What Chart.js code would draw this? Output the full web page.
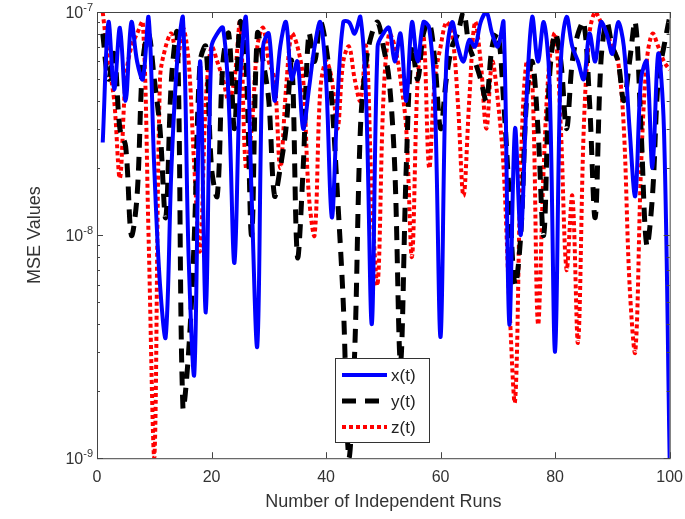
<!DOCTYPE html>
<html>
<head>
<meta charset="utf-8">
<script src="https://cdn.jsdelivr.net/npm/chart.js@4/dist/chart.umd.min.js"></script>
<style>
  body { margin: 0; background: #fff; }
  #wrap { width: 685px; height: 519px; }
</style>
</head>
<body>
<div id="wrap"><canvas id="mseChart"></canvas></div>
<script>
// values in units of 1e-9
const runs = Array.from({ length: 100 }, (_, i) => i + 1);
const xVals = [26,90,45,85,40,90,60,50,95,20, 6,3.5,20,60,95,8,2.4,60,4.5,70,
  80,85,40,7.5,50,95,15,3.2,70,80, 40,70,90,50,60,30,45,70,90,50,
  12,40,90,90,80,95,40,4,70,80, 85,60,80,40,90,60,90,85,40,3.5,
  60,90,70,60,75,70,90,100,80,70, 90,4,30,10,40,95,60,90,50,3,
  60,95,70,60,50,80,60,90,80,65, 90,70,30,15,50,60,20,65,30,1];
const yVals = [80,50,65,30,25,10,15,60,80,50, 30,12,50,80,1.7,3,10,60,70,20,
  15,60,80,30,90,60,10,80,60,40, 15,20,30,60,8,20,80,60,90,70,
  40,15,5,1,3,30,60,80,90,70, 50,20,2.7,20,70,50,80,90,60,30,
  50,70,80,100,70,60,50,40,70,80, 40,15,6,10,40,60,30,10,50,80,
  60,30,60,80,90,40,12,60,90,70, 60,40,60,90,30,9,15,50,70,95];
const zVals = [100,60,40,18,50,70,80,90,10,1, 50,70,80,60,85,60,20,8.5,40,70,
  60,50,40,50,90,20,30,70,85,60, 50,20,45,80,70,50,15,10,45,60,
  50,30,60,70,50,40,70,15,6,40, 80,70,50,30,8,50,80,20,50,70,
  90,80,40,15,40,90,60,30,60,40, 20,5,1.8,20,60,50,4,20,60,80,
  30,7,15,3.3,30,80,100,90,80,70, 60,30,6,3,20,60,80,70,60,55];
const xTicks = [0, 20, 40, 60, 80, 100];
const yTicks = [1e-9, 1e-8, 1e-7];
const tickLabels = { '-9': '-9', '-8': '-8', '-7': '-7' };

const toPts = vals => vals.map((v, i) => ({ x: runs[i], y: v * 1e-9 }));

const series = [
  { label: 'x(t)', data: toPts(xVals), borderColor: '#0000ff', borderWidth: 4, borderDash: [] },
  { label: 'y(t)', data: toPts(yVals), borderColor: '#000000', borderWidth: 5, borderDash: [14, 9] },
  { label: 'z(t)', data: toPts(zVals), borderColor: '#ff0000', borderWidth: 4, borderDash: [4, 3] }
];

const FONT = 'Arial, "Liberation Sans", sans-serif';

// box, inward ticks, 10^n labels and legend
const frame = {
  id: 'frame',
  afterDraw(chart) {
    const ctx = chart.ctx;
    const a = chart.chartArea;
    const xs = chart.scales.x, ys = chart.scales.y;
    ctx.save();
    ctx.strokeStyle = '#444';
    ctx.lineWidth = 1;
    ctx.strokeRect(a.left + 0.5, a.top + 0.5, a.right - a.left, a.bottom - a.top);
    ctx.beginPath();
    xTicks.forEach(t => {
      const px = Math.round(xs.getPixelForValue(t)) + 0.5;
      ctx.moveTo(px, a.bottom); ctx.lineTo(px, a.bottom - 6);
      ctx.moveTo(px, a.top); ctx.lineTo(px, a.top + 6);
    });
    for (let e = -9; e < -7; e++) {
      for (let m = 1; m < 10; m++) {
        const py = Math.round(ys.getPixelForValue(m * Math.pow(10, e))) + 0.5;
        const len = m === 1 ? 6 : 3;
        ctx.moveTo(a.left, py); ctx.lineTo(a.left + len, py);
        ctx.moveTo(a.right, py); ctx.lineTo(a.right - len, py);
      }
    }
    ctx.stroke();

    // y tick labels 10^n
    ctx.fillStyle = '#333';
    ctx.textBaseline = 'alphabetic';
    yTicks.forEach(v => {
      const py = ys.getPixelForValue(v);
      const e = tickLabels[Math.round(Math.log10(v))];
      ctx.font = '11px ' + FONT;
      ctx.textAlign = 'right';
      const ew = ctx.measureText(e).width;
      ctx.fillText(e, a.left - 4, py - 1);
      ctx.font = '16px ' + FONT;
      ctx.fillText('10', a.left - 4 - ew, py + 6);
    });

    // legend
    const x0 = 335, y0 = 358, w = 94, h = 84;
    ctx.fillStyle = '#fff';
    ctx.fillRect(x0, y0, w, h);
    ctx.strokeStyle = '#333';
    ctx.strokeRect(x0 + 0.5, y0 + 0.5, w, h);
    ctx.font = '17px ' + FONT;
    ctx.textAlign = 'left';
    ctx.textBaseline = 'middle';
    series.forEach((s, i) => {
      const yy = y0 + 17 + i * 26;
      ctx.strokeStyle = s.borderColor;
      ctx.lineWidth = s.borderWidth;
      ctx.setLineDash(s.borderDash);
      ctx.beginPath();
      ctx.moveTo(x0 + 7, yy);
      ctx.lineTo(x0 + 52, yy);
      ctx.stroke();
      ctx.setLineDash([]);
      ctx.fillStyle = '#222';
      ctx.fillText(s.label, x0 + 56, yy + 1);
    });
    ctx.restore();
  }
};

new Chart(document.getElementById('mseChart'), {
  type: 'line',
  data: {
    datasets: series.map(s => ({
      label: s.label,
      data: s.data,
      borderColor: s.borderColor,
      borderWidth: s.borderWidth,
      borderDash: s.borderDash,
      pointRadius: 0,
      tension: 0.35,
      fill: false
    }))
  },
  options: {
    responsive: true,
    maintainAspectRatio: false,
    animation: false,
    layout: { padding: { top: 6, right: 9, left: 20, bottom: 2 } },
    plugins: { legend: { display: false }, tooltip: { enabled: false } },
    scales: {
      x: {
        type: 'linear', min: 0, max: 100,
        grid: { display: false },
        border: { display: false },
        afterBuildTicks: axis => { axis.ticks = xTicks.map(v => ({ value: v })); },
        ticks: { padding: 2, color: '#333', font: { size: 16, family: FONT } },
        title: { display: true, text: 'Number of Independent Runs', color: '#333', padding: { top: 2 }, font: { size: 18, family: FONT } }
      },
      y: {
        type: 'logarithmic', min: 1e-9, max: 1e-7,
        grid: { display: false },
        border: { display: false },
        afterBuildTicks: axis => { axis.ticks = yTicks.map(v => ({ value: v })); },
        afterFit: axis => { axis.width = 77; },
        ticks: { color: 'rgba(0,0,0,0)', font: { size: 15, family: FONT }, callback: () => '' },
        title: { display: true, text: 'MSE Values', color: '#333', padding: { bottom: 20 }, font: { size: 18, family: FONT } }
      }
    }
  },
  plugins: [frame]
});
</script>
</body>
</html>
